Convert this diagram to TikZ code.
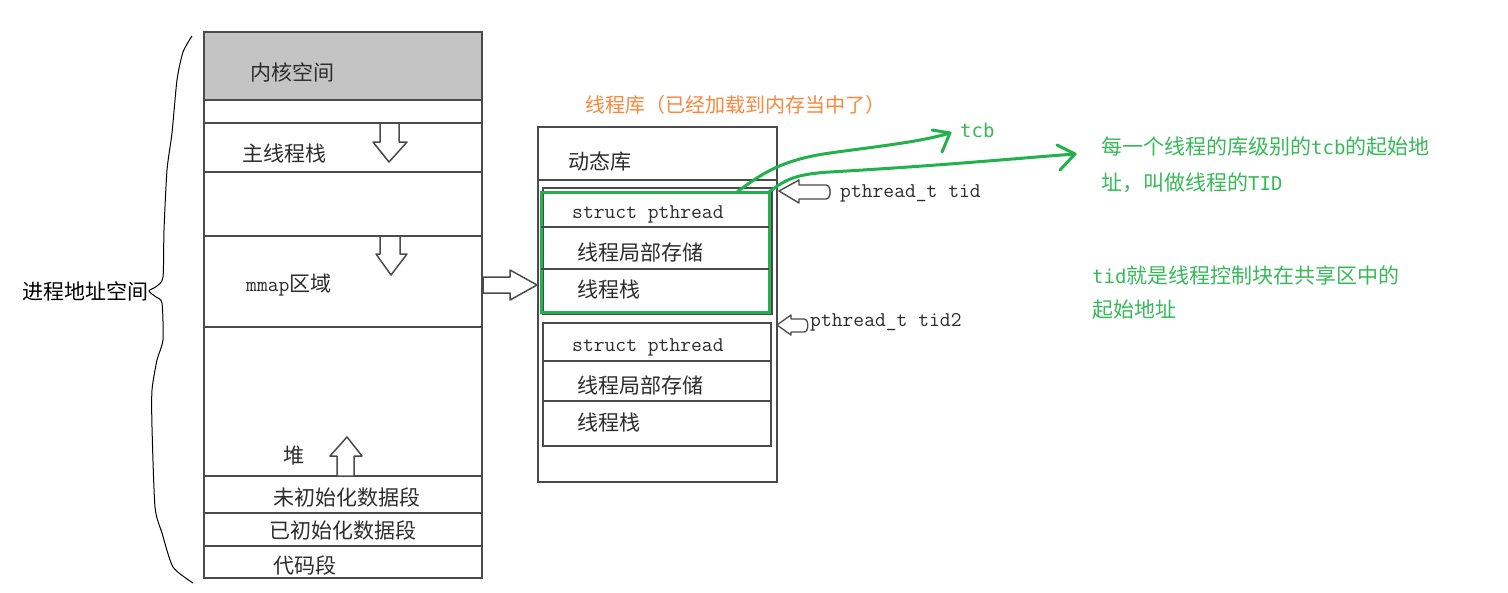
\documentclass[tikz,border=0pt]{standalone}
\usepackage{fontspec}
\newfontfamily\cjk{Noto Sans CJK SC}
\newfontfamily\gmono{DejaVu Sans Mono}
\usetikzlibrary{calc}
\definecolor{sk}{RGB}{75,75,75}
\definecolor{txt}{RGB}{45,45,45}
\definecolor{gr}{RGB}{34,177,76}
\definecolor{gt}{RGB}{55,185,90}
\definecolor{og}{RGB}{250,135,60}
\definecolor{kern}{RGB}{196,196,196}
\tikzset{
  box/.style={draw=sk, line width=1.6pt, inner sep=0pt, outer sep=0pt, anchor=north west},
  sep/.style={draw=sk, line width=1.4pt},
  harrow/.style={draw=sk, line width=1.5pt, fill=white, line join=round},
  lbl/.style={font=\cjk\fontsize{21}{25}\selectfont, text=txt, inner sep=0pt, anchor=west},
  code/.style={font=\ttfamily\fontsize{21}{25}\selectfont, text=txt, inner sep=0pt, anchor=west},
  gline/.style={draw=gr, line width=3pt, line cap=round, line join=round},
  gtxt/.style={font=\cjk\fontsize{21}{25}\selectfont, text=gt, inner sep=0pt, anchor=west},
}
\begin{document}
\begin{tikzpicture}[x=1pt,y=-1pt]
\useasboundingbox[fill=white] (0,0) rectangle (1508,592);

% ---------- process address space ----------
\fill[kern] (204,32) rectangle (482,100);
\node[box, minimum width=278, minimum height=546] (proc) at (204,32) {};
\foreach \yy in {100,123,172,236,327,476,513,546}
  \draw[sep] (proc.west |- 0,\yy) -- (proc.east |- 0,\yy);

\node[lbl] (kernel) at (250,72) {内核空间};
\node[lbl] (mainstack) at (242,153) {主线程栈};
\node[lbl] (mmap) at (246,285) {{\ttfamily\fontsize{21}{25}\selectfont mmap}区域};
\node[lbl] (heap) at (283,456) {堆};
\node[lbl] (bss) at (273,497) {未初始化数据段};
\node[lbl] (data) at (269,530) {已初始化数据段};
\node[lbl] (code) at (273,565) {代码段};

% hollow arrows in process space
\draw[harrow] (380,123)--(399,123)--(399,142)--(407,142)--(389,162)--(373,142)--(380,142)--cycle;
\draw[harrow] (380,236)--(400,236)--(400,254)--(407,254)--(391,275)--(376,254)--(380,254)--cycle;
\draw[harrow] (337,476)--(354,476)--(354,456)--(362,456)--(347,437)--(330,456)--(337,456)--cycle;
\draw[harrow] (483,277)--(510,277)--(510,270)--(537,285)--(510,300)--(510,293)--(483,293)--cycle;

% brace and label
\node[font=\cjk\fontsize{21}{25}\selectfont, text=black, inner sep=0pt, anchor=east] (pas) at (149,291) {进程地址空间};
\draw[black, line width=1pt] plot[smooth, tension=0.4] coordinates {
 (192,36) (183,52) (177,80) (172,133) (167,170) (164,230) (163,277) (157,286) (pas.east)
 (156,297) (162,303) (163,340) (157,360) (152,390) (152,427) (155,507) (162,533) (173,567) (193,583)};

% ---------- thread library ----------
\node[font=\cjk\fontsize{20}{24}\selectfont, text=og, inner sep=0pt, anchor=west] (libtitle) at (585,105) {线程库（已经加载到内存当中了）};
\node[box, minimum width=239, minimum height=355] (lib) at (538,127) {};
\draw[sep] (lib.west |- 0,180) -- (lib.east |- 0,180);
\node[lbl] (dyn) at (568,162) {动态库};

% first thread block (gray outline behind green)
\node[box, line width=1.3pt, minimum width=229, minimum height=126] (t1gray) at (543,188) {};
\node[draw=gr, line width=3pt, inner sep=0pt, outer sep=0pt, anchor=north west,
      minimum width=228, minimum height=120] (t1) at (541,192) {};
\draw[sep] (t1.west |- 0,227) -- (t1.east |- 0,227);
\draw[sep] (t1.west |- 0,269) -- (t1.east |- 0,269);
\node[code] (sp1) at (572,214) {struct pthread};
\node[lbl] (tls1) at (577,252) {线程局部存储};
\node[lbl] (st1) at (577,289) {线程栈};

% second thread block
\node[box, line width=1.5pt, minimum width=228, minimum height=123] (t2) at (543,323) {};
\draw[sep] (t2.west |- 0,361) -- (t2.east |- 0,361);
\draw[sep] (t2.west |- 0,401) -- (t2.east |- 0,401);
\node[code] (sp2) at (572,347) {struct pthread};
\node[lbl] (tls2) at (577,385) {线程局部存储};
\node[lbl] (st2) at (577,422) {线程栈};

% pthread_t pointers
\node[code] (tid) at (840,193) {pthread\_t tid};
\node[code] (tid2) at (810,322) {pthread\_t tid2};
\draw[harrow, line width=1.4pt] (779,191)--(799,180)--(799,185)--(826,185) to[out=0,in=0] (826,199)--(799,199)--(799,203)--cycle;
\draw[harrow, line width=1.3pt] (777,325)--(791,315)--(791,319)--(804,319) to[out=0,in=0] (804,332)--(791,332)--(791,335)--cycle;

% ---------- green annotations ----------
\node[font=\gmono\fontsize{19}{22}\selectfont, text=gt, inner sep=0pt, anchor=west] (tcb) at (960,130) {tcb};
\node[gtxt] (note1a) at (1101,147) {每一个线程的库级别的{\gmono\fontsize{19}{22}\selectfont tcb}的起始地};
\node[gtxt] (note1b) at (1101,183) {址，叫做线程的{\gmono\fontsize{19}{22}\selectfont TID}};
\node[gtxt] (note2a) at (1092,275) {{\gmono\fontsize{19}{22}\selectfont tid}就是线程控制块在共享区中的};
\node[gtxt] (note2b) at (1092,310) {起始地址};

\coordinate (c1s) at ($(t1.north west)!0.86!(t1.north east)$);
\coordinate (c1e) at (950,133);
\coordinate (c2s) at (t1.north east);
\coordinate (c2e) at (1075,154);
\draw[gline] (c1s) .. controls (760,175) and (780,160) .. (830,153) .. controls (880,146) and (920,142) .. (c1e);
\draw[gline] (c1e) ++(-18,-3) -- (c1e) -- ++(-8,19);
\draw[gline] (c2s) .. controls (785,180) and (795,174) .. (830,172) .. controls (950,165) and (1020,158) .. (c2e);
\draw[gline] (c2e) ++(-18,-9) -- (c2e) -- ++(-15,16);
\end{tikzpicture}
\end{document}
